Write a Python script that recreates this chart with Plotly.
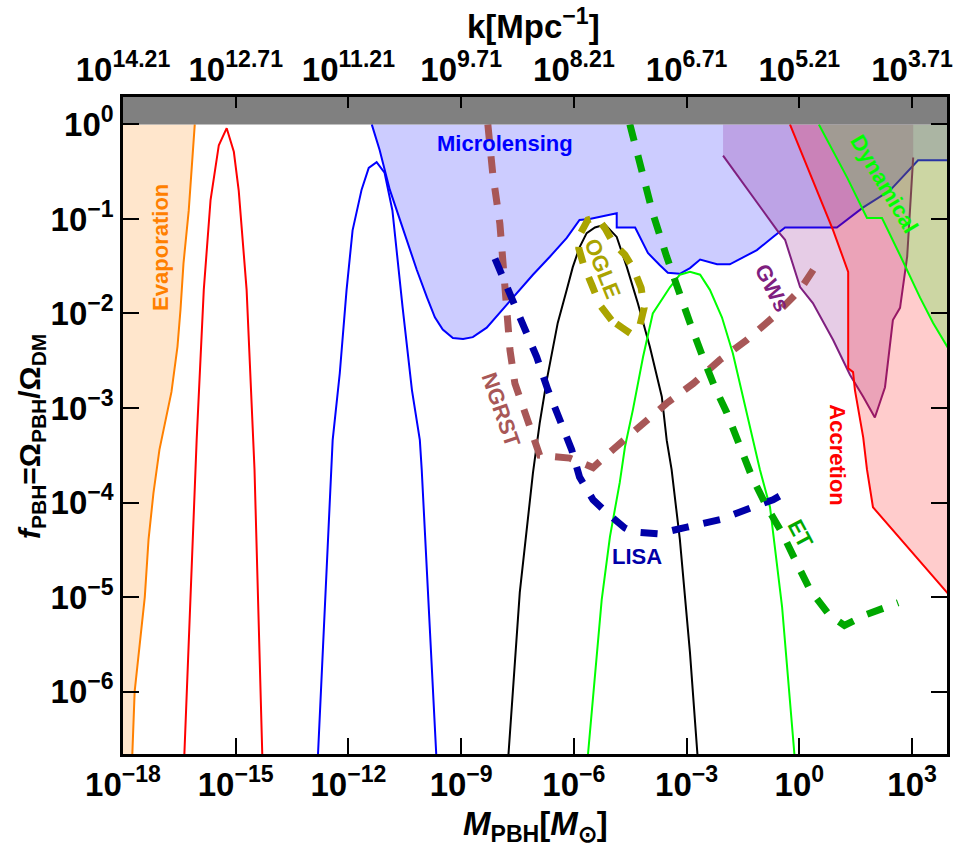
import numpy as np
import plotly.graph_objects as go

# ---------------- data (log10 M_PBH [M_sun], log10 f_PBH) ----------------
# Constraint regions
evap_logm = [-17.76, -17.69, -17.42, -17.32, -17.19, -17.03, -16.71, -16.55, -16.47, -16.39, -16.25, -16.17, -16.09]
evap_logf = [-6.75, -6.00, -5.00, -4.39, -3.90, -3.44, -2.83, -2.35, -1.96, -1.47, -0.91, -0.48, 0.00]

micro_logm = [-11.38, -11.17, -10.90, -10.55, -10.18, -9.91, -9.70, -9.49, -9.22, -8.95, -8.69, -8.32, -7.97,
              -7.52, -7.09, -6.64, -6.19, -5.85, -5.58, -4.86, -4.86, -4.37, -4.03, -3.71, -3.50, -3.18, -2.91,
              -2.64, -2.19, -1.85, -1.13, -0.70, -0.38, 1.00, 1.69, 2.41, 3.16, 4.00]
micro_logf = [0.00, -0.27, -0.69, -1.11, -1.54, -1.83, -2.04, -2.17, -2.26, -2.27, -2.25, -2.15, -1.99,
              -1.78, -1.59, -1.40, -1.20, -1.01, -1.00, -0.94, -1.09, -1.09, -1.36, -1.49, -1.57, -1.58, -1.52,
              -1.43, -1.48, -1.48, -1.33, -1.19, -1.09, -1.09, -0.88, -0.70, -0.38, -0.38]

gws_logm = [-2.03, -1.31, -0.59, -0.38, 0.02, 0.36, 0.90, 1.35, 1.70, 2.01, 2.28, 2.49, 2.68, 2.87, 2.95, 3.03]
gws_logf = [-0.33, -0.72, -1.12, -1.22, -1.72, -1.89, -2.28, -2.65, -2.88, -3.10, -2.78, -2.07, -1.94, -1.40, -0.87, -0.35]

accr_logm = [-0.25, 0.90, 1.30, 1.30, 1.43, 1.48, 1.70, 1.80, 1.96, 4.10]
accr_logf = [0.00, -1.12, -1.56, -2.58, -2.62, -2.81, -3.31, -3.65, -4.05, -5.03]

dyn_logm = [0.52, 0.91, 1.27, 1.80, 2.20, 2.70, 3.21, 3.56, 4.10]
dyn_logf = [0.00, -0.30, -0.56, -0.99, -0.99, -1.40, -1.83, -2.10, -2.46]

# Mass functions (solid peaks)
red_logm = [-16.40, -16.04, -15.85, -15.67, -15.45, -15.24, -15.05, -14.92, -14.71, -14.55, -14.50, -14.27]
red_logf = [-7.00, -3.34, -1.75, -0.80, -0.22, -0.04, -0.29, -0.70, -1.75, -3.34, -3.65, -7.00]

blue_logm = [-12.85, -12.42, -12.23, -12.05, -11.89, -11.65, -11.46, -11.25, -11.04, -10.83, -10.56, -10.31, -10.10, -10.05, -9.62]
blue_logf = [-7.00, -3.34, -2.63, -1.75, -1.12, -0.69, -0.46, -0.40, -0.51, -0.91, -1.93, -2.81, -3.34, -3.65, -7.00]

black_logm = [-7.80, -7.44, -7.09, -6.91, -6.72, -6.43, -6.19, -6.03, -5.85, -5.66, -5.44, -5.17, -4.86, -4.59,
              -4.30, -3.98, -3.66, -3.53, -3.40, -3.18, -2.91, -2.65]
black_logf = [-7.00, -4.95, -3.69, -3.16, -2.70, -2.10, -1.75, -1.51, -1.30, -1.15, -1.09, -1.06, -1.19, -1.51,
              -1.89, -2.35, -2.88, -3.34, -3.65, -4.39, -5.59, -7.00]

lime_logm = [-5.70, -5.26, -5.04, -4.78, -4.64, -4.43, -4.16, -3.90, -3.44, -3.18, -2.91, -2.64, -2.38, -2.06,
             -1.77, -1.50, -1.23, -1.05, -0.78, -0.46, -0.06]
lime_logf = [-7.00, -5.03, -4.36, -3.79, -3.41, -3.02, -2.46, -2.00, -1.72, -1.59, -1.56, -1.59, -1.75, -2.04,
             -2.42, -2.88, -3.31, -3.65, -4.05, -5.10, -7.00]

# Future sensitivities (dashed)
ngrst_logm = [-8.29, -8.16, -7.97, -7.89, -7.78, -7.70, -7.57, -7.44, -7.17, -6.91, -6.11, -5.49, -4.96, -4.24,
              -3.53, -2.82, -2.11, -1.40, -0.70, 0.02, 0.55]
ngrst_logf = [0.00, -0.52, -1.05, -1.51, -1.93, -2.39, -2.74, -2.88, -3.17, -3.50, -3.53, -3.63, -3.44, -3.20,
              -2.95, -2.74, -2.49, -2.28, -2.04, -1.75, -1.43]

lisa_logm = [-8.10, -7.97, -7.65, -7.36, -6.99, -6.69, -6.38, -6.06, -5.85, -5.49, -5.12, -4.64, -4.43, -3.76,
             -2.99, -2.11, -1.31, -0.70, -0.25]
lisa_logf = [-1.42, -1.54, -1.83, -2.14, -2.46, -2.81, -3.13, -3.44, -3.73, -3.97, -4.11, -4.27, -4.31, -4.33,
             -4.26, -4.18, -4.06, -3.97, -3.87]

ogle_logm = [-5.00, -5.31, -5.52, -5.74, -5.87, -5.85, -5.63, -5.39, -5.17, -4.96, -4.64, -4.40, -4.21, -4.13,
             -4.24, -4.46, -4.72, -5.00]
ogle_logf = [-2.07, -1.91, -1.70, -1.49, -1.31, -1.17, -1.01, -0.98, -1.10, -1.25, -1.38, -1.54, -1.73, -1.94,
             -2.12, -2.22, -2.15, -2.07]

et_logm = [-4.51, -4.24, -3.90, -3.53, -3.23, -2.91, -2.57, -2.25, -1.93, -1.58, -1.26, -0.86, -0.46, -0.07,
           0.28, 0.80, 1.20, 1.75, 2.41, 2.63]
et_logf = [0.00, -0.45, -0.94, -1.40, -1.75, -2.10, -2.46, -2.78, -3.05, -3.41, -3.73, -4.05, -4.32, -4.64,
           -4.92, -5.19, -5.30, -5.19, -5.10, -5.06]

# Axis ticks
mass_exps = [-18, -15, -12, -9, -6, -3, 0, 3]
k_exps = ["14.21", "12.71", "11.21", "9.71", "8.21", "6.71", "5.21", "3.71"]
f_exps = [0, -1, -2, -3, -4, -5, -6]

X_RANGE = [-18.0, 3.93]
Y_RANGE = [-6.66, 0.29]
X_FAR_LEFT, X_FAR_RIGHT = -19.0, 4.1

FONT = "Liberation Sans, Arial, sans-serif"


def p10(v):
    return list(10.0 ** np.asarray(v, dtype=float))


def sup(base, exp):
    e = str(exp).replace("-", "\u2212")
    return f"<b>{base}<sup>{e}</sup></b>"


fig = go.Figure()


def region(xs, ys, fill, line_x=None, line_y=None, line_color=None, width=2):
    fig.add_trace(go.Scatter(x=p10(xs), y=p10(ys), mode="lines", fill="toself",
                             fillcolor=fill, line=dict(width=0), hoverinfo="skip"))
    if line_x is not None:
        fig.add_trace(go.Scatter(x=p10(line_x), y=p10(line_y), mode="lines",
                                 line=dict(color=line_color, width=width), hoverinfo="skip"))


# Evaporation
region(evap_logm + [X_FAR_LEFT, X_FAR_LEFT], evap_logf + [0.0, -7.0],
       "rgba(255,128,0,0.2)", evap_logm, evap_logf, "#ff8000")
# Microlensing
region(micro_logm + [micro_logm[-1], micro_logm[0]], micro_logf + [0.0, 0.0],
       "rgba(0,0,255,0.2)", micro_logm, micro_logf, "#0000ff")
# GWs
region([gws_logm[0]] + gws_logm + [gws_logm[-1]], [0.0] + gws_logf + [0.0],
       "rgba(128,0,128,0.2)", gws_logm, gws_logf, "#7f1f7f")
# Accretion
region(accr_logm + [X_FAR_RIGHT], accr_logf + [0.0],
       "rgba(255,0,0,0.2)", accr_logm, accr_logf, "#ff0000")
# Dynamical
region(dyn_logm + [X_FAR_RIGHT], dyn_logf + [0.0],
       "rgba(0,255,0,0.2)", dyn_logm, dyn_logf, "#00ff00")

# Solid mass-function peaks
for xs, ys, c in [(red_logm, red_logf, "#ff0000"), (blue_logm, blue_logf, "#0000ff"),
                  (black_logm, black_logf, "#000000"), (lime_logm, lime_logf, "#00ff00")]:
    fig.add_trace(go.Scatter(x=p10(xs), y=p10(ys), mode="lines",
                             line=dict(color=c, width=2), hoverinfo="skip"))

# Dashed sensitivity curves
DASH = "17px,15px"
for xs, ys, c in [(ngrst_logm, ngrst_logf, "#a85757"), (lisa_logm, lisa_logf, "#0000a8"),
                  (ogle_logm, ogle_logf, "#aaa400"), (et_logm, et_logf, "#00a800")]:
    fig.add_trace(go.Scatter(x=p10(xs), y=p10(ys), mode="lines",
                             line=dict(color=c, width=7, dash=DASH), hoverinfo="skip"))

# f_PBH > 1 excluded band
fig.add_trace(go.Scatter(x=p10([X_FAR_LEFT, X_FAR_RIGHT, X_FAR_RIGHT, X_FAR_LEFT]),
                         y=p10([0.0, 0.0, 1.0, 1.0]), mode="lines", fill="toself",
                         fillcolor="#808080", line=dict(width=0), hoverinfo="skip"))

# carrier trace for the k axis on top
fig.add_trace(go.Scatter(x=[1e-18], y=[1e-3], xaxis="x2", mode="markers",
                         marker=dict(opacity=0), hoverinfo="skip"))

# Region / curve labels
labels = [
    ("Evaporation", -17.00, -1.30, -90, "#ff8000"),
    ("Microlensing", -7.84, -0.20, 0, "#0000ff"),
    ("NGRST", -7.95, -3.02, 71, "#a85757"),
    ("OGLE", -5.23, -1.52, 68, "#aaa400"),
    ("GWs", -0.73, -1.73, 63, "#7f1f7f"),
    ("Dynamical", 2.25, -0.63, 59, "#00ff00"),
    ("Accretion", 1.03, -3.49, 90, "#ff0000"),
    ("LISA", -4.32, -4.57, 0, "#0000a8"),
    ("ET", 0.02, -4.33, 62, "#00a800"),
]
for text, lx, ly, ang, col in labels:
    fig.add_annotation(x=lx, y=ly, xref="x", yref="y", text=f"<b>{text}</b>", showarrow=False,
                       textangle=ang, xanchor="center", yanchor="middle",
                       font=dict(family=FONT, size=22, color=col))

# Axis titles
PL, PR, PT, PB = 123, 947, 97, 754
W, H = 956, 859


def px(x):
    return (x - PL) / (PR - PL)


def py(y):
    return (PB - y) / (PB - PT)


title_kw = dict(xref="paper", yref="paper", showarrow=False, xanchor="center", yanchor="middle")
fig.add_annotation(x=px(533), y=py(24), text="<b>k[Mpc<sup>\u22121</sup>]</b>",
                   font=dict(family=FONT, size=33, color="black"), **title_kw)
fig.add_annotation(x=px(535), y=py(826), text="<b><i>M</i><sub>PBH</sub>[<i>M</i><sub>\u2299</sub>]</b>",
                   font=dict(family=FONT, size=33, color="black"), **title_kw)
fig.add_annotation(x=px(31), y=py(437), textangle=-90,
                   text="<b><i>f</i><sub>PBH</sub>=\u03a9<sub>PBH</sub>/\u03a9<sub>DM</sub></b>",
                   font=dict(family=FONT, size=30, color="black"), **title_kw)

tick_font = dict(family=FONT, size=33, color="black")
axis_common = dict(type="log", showgrid=False, zeroline=False, showline=True, linecolor="black",
                   linewidth=2.5, ticks="inside", tickcolor="black", tickwidth=2, tickfont=tick_font,
                   automargin=False)

fig.update_layout(
    width=W, height=H,
    margin=dict(l=PL, r=W - PR, t=PT, b=H - PB, pad=0, autoexpand=False),
    paper_bgcolor="white", plot_bgcolor="white",
    showlegend=False,
    xaxis=dict(range=X_RANGE, tickvals=[10.0 ** e for e in mass_exps],
               ticktext=[sup("10", e) for e in mass_exps], ticklen=16, **axis_common),
    xaxis2=dict(range=X_RANGE, overlaying="x", side="top", tickvals=[10.0 ** e for e in mass_exps],
                ticktext=[sup("10", e) for e in k_exps], ticklen=11, **axis_common),
    yaxis=dict(range=Y_RANGE, tickvals=[10.0 ** e for e in f_exps],
               ticktext=[sup("10", e) for e in f_exps], ticklen=16, mirror="ticks", **axis_common),
)

fig.write_html("out.html")
